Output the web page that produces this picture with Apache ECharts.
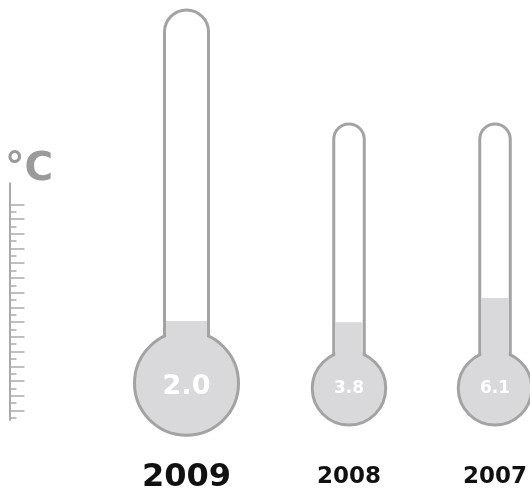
<!DOCTYPE html>
<html>
<head>
<meta charset="utf-8">
<style>
  html, body { margin: 0; padding: 0; background: #fff; }
  #chart { width: 530px; height: 488px; }
</style>
<script src="https://cdn.jsdelivr.net/npm/echarts@6/dist/echarts.min.js"></script>
</head>
<body>
<div id="chart"></div>
<script>
// Readings shown in each thermometer
const years = ['2009', '2008', '2007'];
const values = [2.0, 3.8, 6.1];

// Glass tube runs from the axis minimum up to this reading
const TUBE_TOP = 22.7;
const AXIS_MIN = -5;
// Number of graduations on the decorative scale
const SCALE_STEPS = 30;

const STROKE = '#a3a3a3';
const LIQUID = '#d9d9db';
const FONT = 'DejaVu Sans';
const BORDER = 3;

// Placement and size of each thermometer (the first one is drawn larger)
const layout = [
  { cx: 186.5, zeroY: 351.2, unitPx: 15.1, tubeW: 47, bulbD: 104, bulbAt: -2.12, valueFont: 27, valueShift: 4, yearFont: 32, yearMargin: 35 },
  { cx: 349.0, zeroY: 362.5, unitPx: 10.57, tubeW: 33.5, bulbD: 73.5, bulbAt: -2.44, valueFont: 17, valueShift: 0, yearFont: 23, yearMargin: 50 },
  { cx: 495.0, zeroY: 362.5, unitPx: 10.57, tubeW: 33.5, bulbD: 73.5, bulbAt: -2.44, valueFont: 17, valueShift: 0, yearFont: 23, yearMargin: 50 }
];

const grid = [], xAxis = [], yAxis = [], series = [];

years.forEach(function (year, i) {
  const L = layout[i];
  const top = L.zeroY - TUBE_TOP * L.unitPx;
  grid.push({
    left: L.cx - 30, width: 60, top: top, height: (TUBE_TOP - AXIS_MIN) * L.unitPx,
    outerBoundsMode: 'none', containLabel: false
  });

  // visible axis carrying the year label
  xAxis.push({
    type: 'category', gridIndex: i, data: [year],
    axisLine: { show: false }, axisTick: { show: false }, splitLine: { show: false },
    axisLabel: { fontFamily: FONT, fontWeight: 'bold', fontSize: L.yearFont, color: '#111', margin: L.yearMargin }
  });
  // second axis so the narrower liquid column is centred on its own
  xAxis.push({
    type: 'category', gridIndex: i, data: [year], show: false
  });
  yAxis.push({
    type: 'value', gridIndex: i, min: AXIS_MIN, max: TUBE_TOP, show: false
  });

  // glass tube (the border is drawn inside the bar width)
  const r = (L.tubeW - BORDER) / 2;
  series.push({
    type: 'bar', xAxisIndex: 2 * i, yAxisIndex: i, z: 1, silent: true,
    barWidth: L.tubeW, data: [TUBE_TOP],
    itemStyle: { color: '#fff', borderColor: STROKE, borderWidth: BORDER, borderRadius: [r, r, 0, 0] }
  });
  // bulb with the reading
  series.push({
    type: 'scatter', xAxisIndex: 2 * i, yAxisIndex: i, z: 2, silent: true,
    symbol: 'circle', symbolSize: L.bulbD,
    data: [[0, L.bulbAt]],
    itemStyle: { color: LIQUID, borderColor: STROKE, borderWidth: BORDER, opacity: 1 },
    label: {
      show: true, position: 'inside', offset: [0, L.valueShift], formatter: values[i].toFixed(1),
      color: '#fff', fontFamily: FONT, fontWeight: 'bold', fontSize: L.valueFont
    }
  });
  // liquid column, filling the inside of the tube
  series.push({
    type: 'bar', xAxisIndex: 2 * i + 1, yAxisIndex: i, z: 3, silent: true,
    barWidth: L.tubeW - 2 * BORDER, data: [values[i]],
    itemStyle: { color: LIQUID }
  });
});

// Decorative graduated scale on the left
const scaleGrid = grid.length;
grid.push({ left: 9.5, width: 20, top: 183.3, bottom: 68, outerBoundsMode: 'none', containLabel: false });
xAxis.push({ type: 'value', gridIndex: scaleGrid, show: false });
const majorMarks = [], minorMarks = [];
for (let k = 0; k < SCALE_STEPS; k++) (k % 2 === 0 ? majorMarks : minorMarks).push(k);
const scaleAxis = {
  type: 'value', gridIndex: scaleGrid, position: 'left', offset: 0,
  inverse: true, min: -2.85, max: 29.3,
  splitLine: { show: false }, axisLabel: { show: false }
};
yAxis.push(Object.assign({}, scaleAxis, {
  axisLine: { show: true, lineStyle: { color: '#aaaaaa', width: 2 } },
  axisTick: { show: true, inside: true, length: 15, customValues: majorMarks, lineStyle: { color: '#aaaaaa', width: 1.5 } }
}));
yAxis.push(Object.assign({}, scaleAxis, {
  axisLine: { show: false },
  axisTick: { show: true, inside: true, length: 7, customValues: minorMarks, lineStyle: { color: '#aaaaaa', width: 1.5 } }
}));

const chart = echarts.init(document.getElementById('chart'), null, { renderer: 'canvas' });
chart.setOption({
  animation: false,
  backgroundColor: '#fff',
  title: {
    text: '°C', left: 5, top: 150, padding: 0,
    textStyle: { fontFamily: FONT, fontWeight: 'bold', fontSize: 39, color: '#9a9a9a' }
  },
  grid: grid,
  xAxis: xAxis,
  yAxis: yAxis,
  series: series
});
</script>
</body>
</html>
